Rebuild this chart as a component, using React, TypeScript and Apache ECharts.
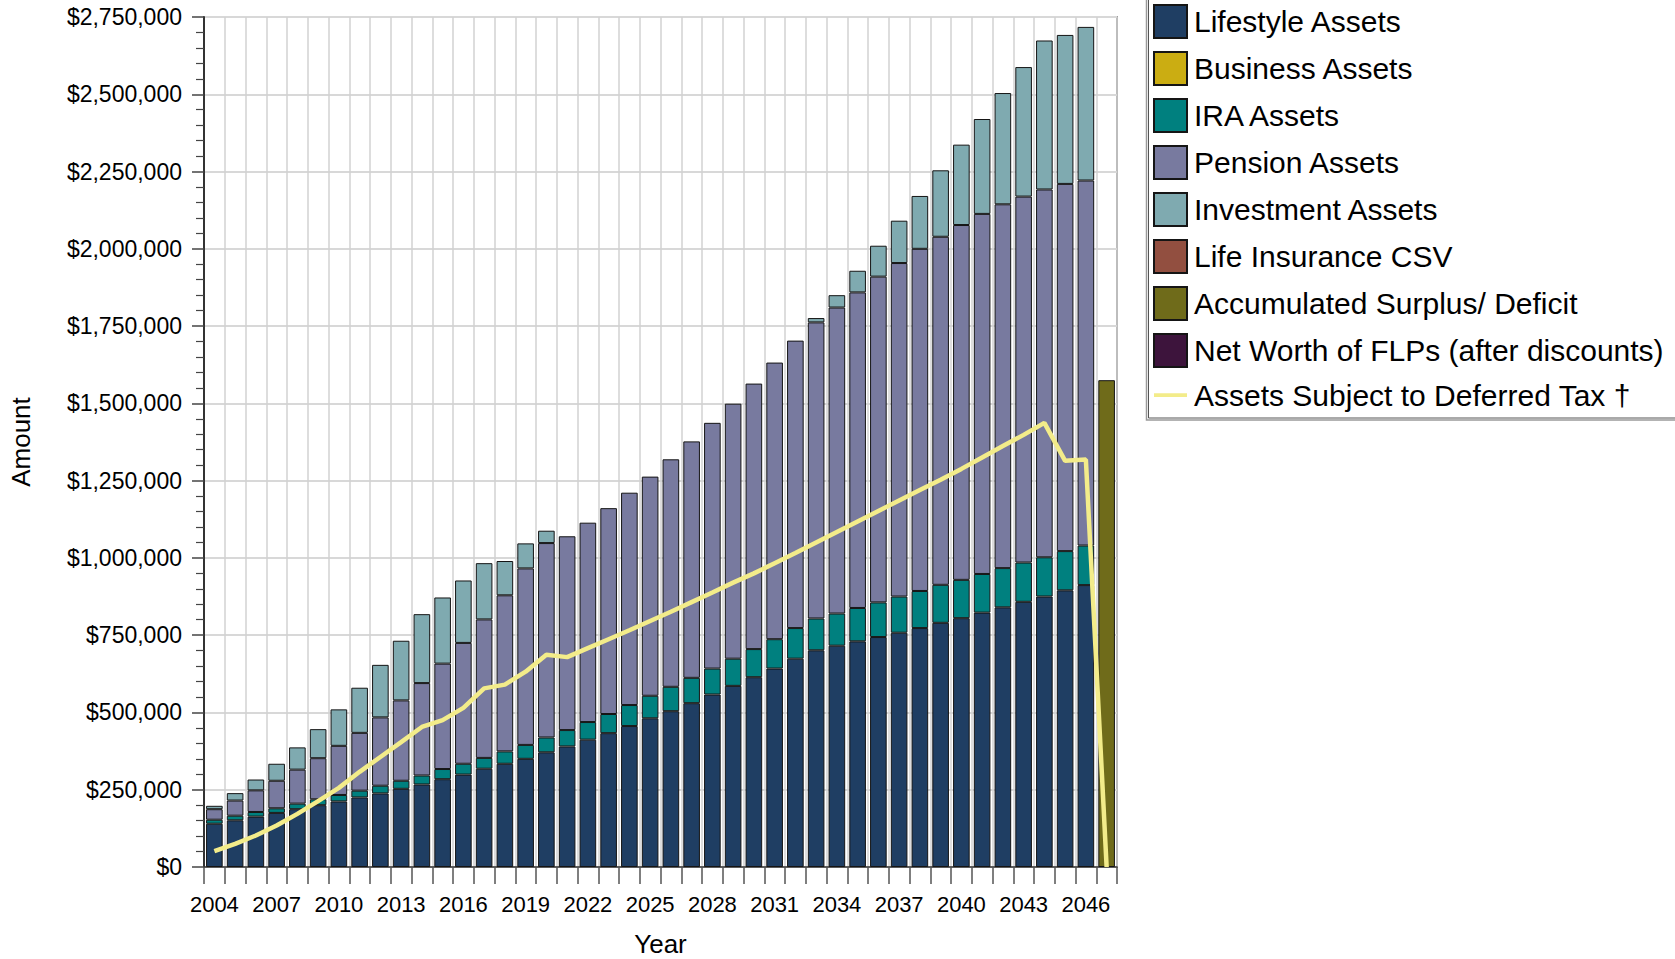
import React, { useEffect, useRef } from "react";
import * as echarts from "echarts";

const years = [
  "2004", "2005", "2006", "2007", "2008", "2009", "2010", "2011", "2012", "2013", "2014",
  "2015", "2016", "2017", "2018", "2019", "2020", "2021", "2022", "2023", "2024", "2025",
  "2026", "2027", "2028", "2029", "2030", "2031", "2032", "2033", "2034", "2035", "2036",
  "2037", "2038", "2039", "2040", "2041", "2042", "2043", "2044", "2045", "2046", "2047",
];

const lifestyle = [
  140000, 151000, 163000, 175000, 187000, 200000, 212000, 225000, 238000, 253000, 267000,
  284000, 299000, 318000, 334000, 350000, 371000, 390000, 412000, 433000, 456000, 481000,
  504000, 530000, 558000, 586000, 614000, 642000, 674000, 701000, 716000, 730000, 744000,
  758000, 773000, 790000, 805000, 823000, 840000, 858000, 875000, 895000, 912000, 0,
];

const business = [
  0, 0, 0, 0, 0, 0, 0, 0, 0, 0, 0, 0, 0, 0, 0, 0, 0, 0, 0, 0, 0, 0,
  0, 0, 0, 0, 0, 0, 0, 0, 0, 0, 0, 0, 0, 0, 0, 0, 0, 0, 0, 0, 0, 0,
];

const ira = [
  13000, 15000, 15000, 15000, 18000, 19000, 21000, 22000, 25000, 26000, 29000,
  33000, 35000, 35000, 40000, 45000, 48000, 53000, 57000, 62000, 68000, 73000,
  79000, 82000, 84000, 88000, 91000, 95000, 99000, 103000, 104000, 108000, 112000,
  117000, 120000, 123000, 124000, 125000, 127000, 127000, 127000, 127000, 128000, 0,
];

const pension = [
  34000, 49000, 70000, 89000, 110000, 133000, 159000, 187000, 221000, 260000, 299000,
  341000, 391000, 448000, 505000, 571000, 629000, 627000, 645000, 666000, 687000, 709000,
  736000, 765000, 795000, 825000, 859000, 895000, 930000, 958000, 990000, 1021000, 1054000,
  1079000, 1107000, 1126000, 1148000, 1165000, 1177000, 1184000, 1190000, 1188000, 1181000, 0,
];

const investment = [
  11000, 24000, 35000, 55000, 72000, 94000, 118000, 146000, 170000, 193000, 223000,
  214000, 202000, 182000, 111000, 81000, 40000, 0, 0, 0, 0, 0,
  0, 0, 0, 0, 0, 0, 0, 14000, 40000, 70000, 100000,
  137000, 171000, 215000, 260000, 307000, 360000, 419000, 482000, 482000, 497000, 0,
];

const lifeInsurance = [
  0, 0, 0, 0, 0, 0, 0, 0, 0, 0, 0, 0, 0, 0, 0, 0, 0, 0, 0, 0, 0, 0,
  0, 0, 0, 0, 0, 0, 0, 0, 0, 0, 0, 0, 0, 0, 0, 0, 0, 0, 0, 0, 0, 0,
];

const surplus = [
  0, 0, 0, 0, 0, 0, 0, 0, 0, 0, 0, 0, 0, 0, 0, 0, 0, 0, 0, 0, 0, 0,
  0, 0, 0, 0, 0, 0, 0, 0, 0, 0, 0, 0, 0, 0, 0, 0, 0, 0, 0, 0, 0, 1575000,
];

const flp = [
  0, 0, 0, 0, 0, 0, 0, 0, 0, 0, 0, 0, 0, 0, 0, 0, 0, 0, 0, 0, 0, 0,
  0, 0, 0, 0, 0, 0, 0, 0, 0, 0, 0, 0, 0, 0, 0, 0, 0, 0, 0, 0, 0, 0,
];

const deferredTax = [
  51000, 75000, 102000, 134000, 172000, 213000, 256000, 308000, 356000, 404000, 453000,
  475000, 515000, 578000, 590000, 632000, 687000, 679000, 708000, 737000, 766000, 796000,
  826000, 857000, 888000, 920000, 950000, 983000, 1016000, 1050000, 1084000, 1118000, 1152000,
  1186000, 1220000, 1253000, 1288000, 1325000, 1362000, 1398000, 1437000, 1314000, 1318000, 0,
];

const barSeriesDefs = [
  { name: "Lifestyle Assets", data: lifestyle, color: "#1f3e63" },
  { name: "Business Assets", data: business, color: "#cbad12" },
  { name: "IRA Assets", data: ira, color: "#00807f" },
  { name: "Pension Assets", data: pension, color: "#787a9f" },
  { name: "Investment Assets", data: investment, color: "#7faab0" },
  { name: "Life Insurance CSV", data: lifeInsurance, color: "#924f40" },
  { name: "Accumulated Surplus/ Deficit", data: surplus, color: "#6f6b1a" },
  { name: "Net Worth of FLPs (after discounts)", data: flp, color: "#3d143c" },
];
const lineName = "Assets Subject to Deferred Tax \u2020";
const LINE_COLOR = "#f3ec8a";

const FONT = "Arial, 'Liberation Sans', Helvetica, sans-serif";

export default function App() {
  const ref = useRef<HTMLDivElement>(null);

  useEffect(() => {
    document.body.style.margin = "0";
    const chart = echarts.init(ref.current!, null, { renderer: "svg" });

    const series: any[] = barSeriesDefs.map((d) => ({
      name: d.name,
      type: "bar",
      stack: "assets",
      barCategoryGap: "20%",
      data: d.data.map((v) => (v === 0 ? null : v)),
      itemStyle: { color: d.color, borderColor: "#151515", borderWidth: 1 },
      z: 2,
    }));
    series.push({
      name: lineName,
      type: "line",
      data: deferredTax,
      symbol: "none",
      lineStyle: { color: LINE_COLOR, width: 4.5 },
      itemStyle: { color: LINE_COLOR },
      z: 5,
    });

    chart.setOption({
      animation: false,
      backgroundColor: "#ffffff",
      textStyle: { fontFamily: FONT },
      grid: {
        left: 204,
        right: 558,
        top: 17,
        bottom: 92,
        containLabel: false,
        outerBoundsMode: "none",
        show: true,
        borderColor: "#555555",
        borderWidth: 1.5,
        backgroundColor: "transparent",
      },
      legend: {
        orient: "vertical",
        left: 1153,
        top: 4,
        padding: 0,
        itemWidth: 33,
        itemHeight: 33,
        itemGap: 12,
        textStyle: {
          fontSize: 30,
          color: "#000",
          fontFamily: FONT,
          lineHeight: 30,
          padding: [0, 0, 0, 2],
        },
        data: [
          ...barSeriesDefs.map((d) => ({ name: d.name, icon: "rect" })),
          {
            name: lineName,
            icon: "path://M0,0 L0.05,0 M0,14.5 L36,14.5 L36,18.5 L0,18.5 Z M35.95,33 L36,33",
            itemStyle: { color: LINE_COLOR, borderWidth: 0 },
          },
        ],
      },
      graphic: [
        {
          type: "rect",
          shape: { x: 1146.5, y: -5, width: 540, height: 425 },
          style: { fill: "transparent", stroke: "#9a9a9a", lineWidth: 1.5 },
          z: -1,
        },
        {
          type: "rect",
          shape: { x: 1148.5, y: -5, width: 540, height: 423 },
          style: { fill: "transparent", stroke: "#555555", lineWidth: 1 },
          z: -1,
        },
      ],
      xAxis: {
        type: "category",
        data: years,
        boundaryGap: true,
        name: "Year",
        nameLocation: "middle",
        nameGap: 64,
        nameTextStyle: { fontSize: 26, lineHeight: 26, color: "#000", fontFamily: FONT },
        axisLine: { show: true, lineStyle: { color: "#333", width: 1.5 } },
        axisTick: { show: true, interval: 0, length: 17, lineStyle: { color: "#555", width: 1.5 } },
        axisLabel: { interval: 2, fontSize: 22, color: "#000", margin: 26, fontFamily: FONT },
        splitLine: { show: true, interval: 0, lineStyle: { color: "#d2d2d2", width: 1.5 } },
      },
      yAxis: {
        type: "value",
        min: 0,
        max: 2750000,
        interval: 250000,
        name: "Amount",
        nameLocation: "middle",
        nameGap: 170,
        nameTextStyle: { fontSize: 26, color: "#000", fontFamily: FONT },
        axisLine: { show: true, lineStyle: { color: "#333", width: 2 } },
        axisTick: { show: true, length: 12, lineStyle: { color: "#444", width: 1.5 } },
        minorTick: { show: true, splitNumber: 5, length: 8, lineStyle: { color: "#444", width: 1.2 } },
        axisLabel: {
          fontSize: 23,
          color: "#000",
          margin: 22,
          fontFamily: FONT,
          formatter: (v: number) => "$" + v.toLocaleString("en-US"),
        },
        splitLine: { show: true, lineStyle: { color: "#d8d8d8", width: 2 } },
      },
      series,
    });

    return () => chart.dispose();
  }, []);

  return (
    <div
      ref={ref}
      style={{ position: "absolute", left: 0, top: 0, width: 1675, height: 959 }}
    />
  );
}
